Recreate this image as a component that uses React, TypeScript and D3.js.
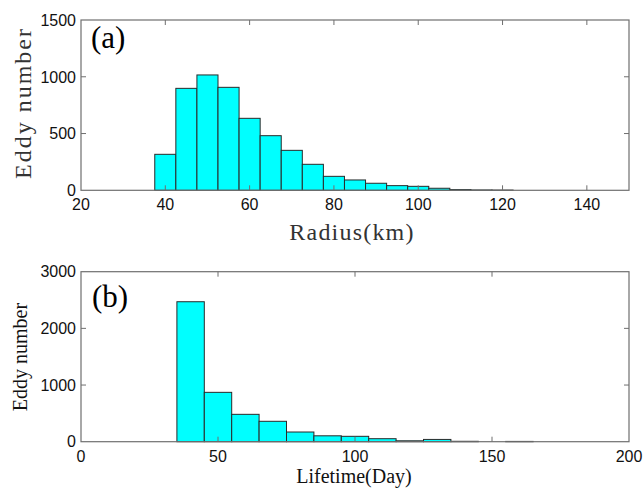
import React from "react";
import * as d3 from "d3";

// Panel (a): radius histogram (bin width 5 km), bin centres
const radiusCenters = [40, 45, 50, 55, 60, 65, 70, 75, 80, 85, 90, 95, 100, 105, 110, 115, 120, 125, 130, 135, 140, 145];
const radiusCounts = [317, 898, 1016, 907, 634, 481, 352, 229, 123, 91, 62, 41, 35, 18, 6, 3, 2, 0, 0, 0, 0, 0];
const radiusXTicks = [20, 40, 60, 80, 100, 120, 140];
const radiusYTicks = [0, 500, 1000, 1500];

// Panel (b): lifetime histogram (bin width 10 days), bin centres
const lifeCenters = [40, 50, 60, 70, 80, 90, 100, 110, 120, 130, 140, 150, 160];
const lifeCounts = [2470, 871, 483, 360, 171, 104, 95, 53, 16, 40, 7, 0, 5];
const lifeXTicks = [0, 50, 100, 150, 200];
const lifeYTicks = [0, 1000, 2000, 3000];

const AXIS = "#6f6f6f";
const BAR_FILL = "#00ffff";
const BAR_STROKE = "#2a2a2a";
const TICK_FONT = "'Liberation Sans', Arial, sans-serif";
const SERIF = "'Liberation Serif', 'Times New Roman', serif";

type PanelProps = {
  centers: number[];
  counts: number[];
  binWidth: number;
  xDomain: [number, number];
  yDomain: [number, number];
  xTicks: number[];
  yTicks: number[];
  top: number;
  bottom: number;
};

function Panel({ centers, counts, binWidth, xDomain, yDomain, xTicks, yTicks, top, bottom }: PanelProps) {
  const left = 81;
  const right = 629;
  const x = d3.scaleLinear().domain(xDomain).range([left, right]);
  const y = d3.scaleLinear().domain(yDomain).range([bottom, top]);
  const tl = 5;
  return (
    <g>
      {centers.map((c, i) =>
        counts[i] > 0 ? (
          <rect
            key={i}
            x={x(c - binWidth / 2)}
            y={y(counts[i])}
            width={x(c + binWidth / 2) - x(c - binWidth / 2)}
            height={y(0) - y(counts[i])}
            fill={BAR_FILL}
            stroke={BAR_STROKE}
            strokeWidth={1}
          />
        ) : null
      )}
      <rect x={left} y={top} width={right - left} height={bottom - top} fill="none" stroke={AXIS} strokeWidth={1.2} />
      {xTicks.map((t) => (
        <g key={"x" + t}>
          {t !== xDomain[0] && t !== xDomain[1] ? (
            <>
              <line x1={x(t)} x2={x(t)} y1={bottom} y2={bottom - tl} stroke={AXIS} />
              <line x1={x(t)} x2={x(t)} y1={top} y2={top + tl} stroke={AXIS} />
            </>
          ) : null}
          <text x={x(t)} y={bottom + 20} textAnchor="middle" fontFamily={TICK_FONT} fontSize={16} fill="#111">
            {t}
          </text>
        </g>
      ))}
      {yTicks.map((t) => (
        <g key={"y" + t}>
          {t !== yDomain[0] && t !== yDomain[1] ? (
            <>
              <line x1={left} x2={left + tl} y1={y(t)} y2={y(t)} stroke={AXIS} />
              <line x1={right} x2={right - tl} y1={y(t)} y2={y(t)} stroke={AXIS} />
            </>
          ) : null}
          <text x={76} y={y(t)} dy="0.36em" textAnchor="end" fontFamily={TICK_FONT} fontSize={16} fill="#111">
            {t}
          </text>
        </g>
      ))}
    </g>
  );
}

export default function App() {
  return (
    <svg
      width={644}
      height={488}
      style={{ position: "absolute", left: 0, top: 0, background: "#fff" }}
    >
      <rect width={644} height={488} fill="#fff" />
      <Panel
        centers={radiusCenters}
        counts={radiusCounts}
        binWidth={5}
        xDomain={[20, 150]}
        yDomain={[0, 1500]}
        xTicks={radiusXTicks}
        yTicks={radiusYTicks}
        top={20}
        bottom={190.3}
      />
      <text x={91} y={48} fontFamily={SERIF} fontSize={31} fill="#000">(a)</text>
      <text
        transform="translate(31,103) rotate(-90)"
        textAnchor="middle"
        fontFamily={SERIF}
        fontSize={24}
        letterSpacing={2}
        fill="#333"
      >
        Eddy number
      </text>
      <text x={352} y={240} textAnchor="middle" fontFamily={SERIF} fontSize={24} letterSpacing={1.2} fill="#333">
        Radius(km)
      </text>

      <Panel
        centers={lifeCenters}
        counts={lifeCounts}
        binWidth={10}
        xDomain={[0, 200]}
        yDomain={[0, 3000]}
        xTicks={lifeXTicks}
        yTicks={lifeYTicks}
        top={271.7}
        bottom={441.7}
      />
      <text x={92} y={307} fontFamily={SERIF} fontSize={31} fill="#000">(b)</text>
      <text
        transform="translate(27,357) rotate(-90)"
        textAnchor="middle"
        fontFamily={SERIF}
        fontSize={20}
        fill="#111"
      >
        Eddy number
      </text>
      <text x={354} y={483} textAnchor="middle" fontFamily={SERIF} fontSize={20} fill="#111">
        Lifetime(Day)
      </text>
    </svg>
  );
}
